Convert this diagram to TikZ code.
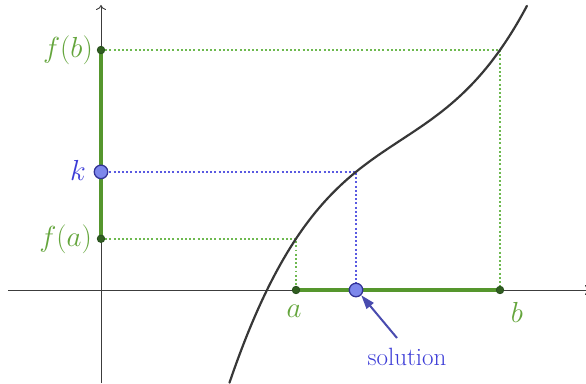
\documentclass[tikz,border=0pt]{standalone}
\usepackage{fix-cm}
\usetikzlibrary{arrows.meta}
\definecolor{axisgray}{RGB}{60,60,60}
\definecolor{curvegray}{RGB}{55,55,55}
\definecolor{gline}{RGB}{85,150,45}
\definecolor{glabel}{RGB}{100,165,60}
\definecolor{gdot}{RGB}{110,185,80}
\definecolor{gpoint}{RGB}{40,80,30}
\definecolor{bdot}{RGB}{90,90,225}
\definecolor{blabel}{RGB}{60,60,215}
\definecolor{bfill}{RGB}{125,135,235}
\definecolor{bedge}{RGB}{50,50,150}
\tikzset{
  axisline/.style={draw=axisgray, line width=0.9pt},
  gdotted/.style={draw=gdot, line width=1.9pt, dash pattern=on 1.9pt off 2.3pt},
  bdotted/.style={draw=bdot, line width=1.9pt, dash pattern=on 1.9pt off 2.3pt},
  gseg/.style={draw=gline, line width=3.2pt},
  gpt/.style={circle, fill=gpoint!80!gline, draw=gpoint, line width=0.8pt, minimum size=7.5pt, inner sep=0pt},
  bpt/.style={circle, fill=bfill, draw=bedge, line width=1.3pt, minimum size=13.5pt, inner sep=0pt},
  mlabel/.style={font=\fontsize{29}{32}\selectfont, inner sep=0pt},
  tlabel/.style={font=\fontsize{25}{28}\selectfont, inner sep=0pt}
}
\begin{document}
\begin{tikzpicture}[x=1pt,y=1pt]
\useasboundingbox (-101,-93) rectangle (485,290);
% axes
\draw[axisline, -{To[length=5pt,width=10pt]}] (-93,0) -- (489,0);
\coordinate (ybot) at (0,-93);
\coordinate (ytop) at (0,285);
\draw[axisline, -{To[length=5pt,width=10pt]}] (ybot) -- (ytop);
% key coordinates
\coordinate (FA) at (0,51.25);
\coordinate (K) at (0,118.13);
\coordinate (FB) at (0,239.98);
\coordinate (PA) at (195,51.25);
\coordinate (PS) at (255,118.13);
\coordinate (PB) at (399,239.98);
\coordinate (A) at (195,0);
\coordinate (S) at (255,0);
\coordinate (B) at (399,0);
% dotted guides
\draw[gdotted] (FB) -- (PB) -- (B);
\draw[gdotted] (FA) -- (PA) -- (A);
\draw[bdotted] (K) -- (PS) -- (S);
% curve
\draw[curvegray, line width=2.2pt, line cap=round]
  plot[domain=1.285:4.26, samples=120, smooth]
  ({100*\x},{150+25.8*(\x-3)*(\x-3)*(\x-3)+65.6*(\x-3)});
% green segments
\draw[gseg] (FA) -- (FB);
\draw[gseg] (A) -- (B);
% points
\node[gpt] (nFA) at (FA) {};
\node[gpt] (nFB) at (FB) {};
\node[gpt] (nA) at (A) {};
\node[gpt] (nB) at (B) {};
\node[bpt] (nK) at (K) {};
\node[bpt] (nS) at (S) {};
% labels
\node[mlabel, text=glabel, anchor=east] (lFB) at (-8,240) {$f(b)$};
\node[mlabel, text=glabel, anchor=east] (lFA) at (-9,51) {$f(a)$};
\node[mlabel, text=blabel, anchor=east] (lK) at (-15,120) {$k$};
\node[mlabel, text=glabel] (lA) at (193,-21) {$a$};
\node[mlabel, text=glabel] (lB) at (416,-22) {$b$};
\node[tlabel, text=blabel] (lS) at (306,-67) {solution};
\coordinate (arrtail) at (296,-48);
\draw[draw=bedge!70!bfill, line width=2pt, -{Triangle[length=14pt,width=9pt]}, fill=bfill!70!bedge]
  (arrtail) -- (nS.-45);
\end{tikzpicture}
\end{document}
